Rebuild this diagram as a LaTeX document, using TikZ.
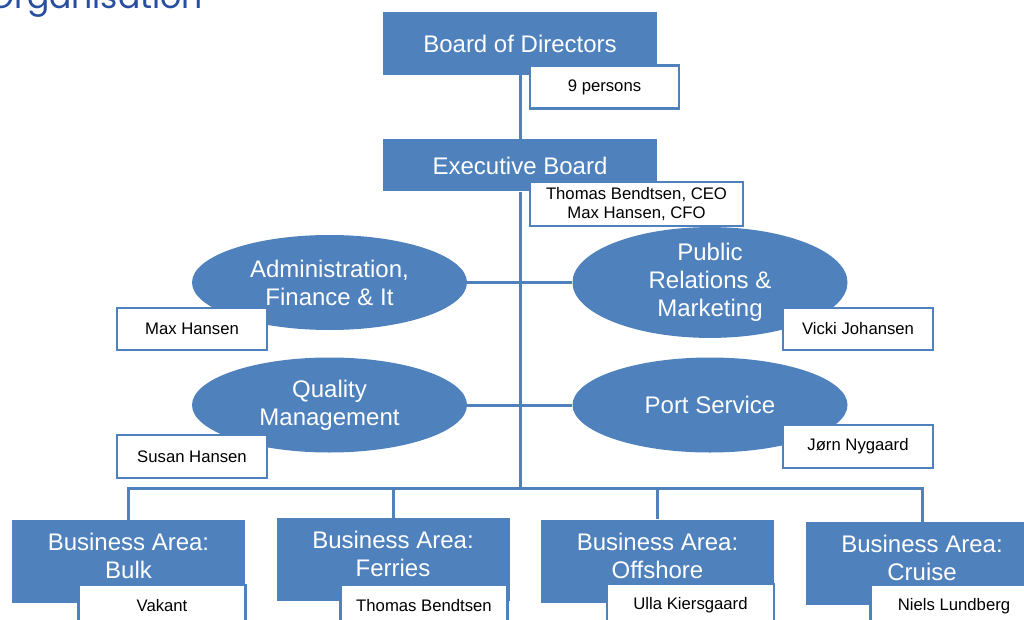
\documentclass[tikz,border=0pt]{standalone}
\usepackage{fontspec}
\setmainfont{Liberation Sans}
\newfontfamily\titlefont{Poppins}
\usetikzlibrary{shapes.geometric}

\definecolor{orgblue}{RGB}{79,129,189}
\definecolor{titleblue}{RGB}{41,78,160}

\tikzset{
    unit/.style={fill=orgblue, text=white, inner sep=0pt, align=center, font=\fontsize{24}{28}\selectfont},
    unitbox/.style={unit, rectangle},
    areabox/.style={unitbox, minimum width=233pt, minimum height=83pt, text depth=11pt},
    unitoval/.style={unit, ellipse, minimum width=275pt, minimum height=95pt},
    namebox/.style={draw=orgblue, line width=2.5pt, fill=white, inner sep=0pt, align=center, font=\fontsize{16.7}{19}\selectfont},
    areaname/.style={namebox, minimum width=167pt, minimum height=42pt},
    orgline/.style={draw=orgblue, line width=3pt},
}

\begin{document}
\begin{tikzpicture}[x=1pt,y=-1pt]
                \clip (0,0) rectangle (1024,620);
                \node[anchor=base east, inner sep=0pt, text=titleblue, font=\titlefont\fontsize{33}{33}\selectfont] (title) at (203,9) {Organisation};

                \node[unitbox, minimum width=274pt, minimum height=63pt] (board) at (520,43.5) {Board of Directors};
                \node[namebox, minimum width=149pt, minimum height=43pt] (boardname) at (604.5,87) {9 persons};
                \node[unitbox, minimum width=274pt, minimum height=52pt] (exec) at (520,165.5) {Executive Board};
                \node[namebox, minimum width=213pt, minimum height=44pt] (execname) at (636.5,204) {Thomas Bendtsen, CEO\\Max Hansen, CFO};

                \node[unitoval] (admin) at (329.5,282.5) {Administration,\\Finance \& It};
                \node[unitoval] (pubrel) at (710,282.5) {Public\\Relations \&\\Marketing};
                \node[unitoval] (quality) at (329.5,405) {Quality\\Management};
                \node[unitoval] (port) at (710,405) {Port Service};
                \node[namebox, minimum width=150pt, minimum height=42pt] (adminname) at (192,329) {Max Hansen};
                \node[namebox, minimum width=150pt, minimum height=42pt] (pubrelname) at (858,329) {Vicki Johansen};
                \node[namebox, minimum width=150pt, minimum height=43pt] (qualityname) at (192,456.5) {Susan Hansen};
                \node[namebox, minimum width=150pt, minimum height=43pt] (portname) at (858,446.5) {Jørn Nygaard};

                \node[areabox] (bulk) at (128.5,561.5) {Business Area:\\Bulk};
                \node[areabox] (ferries) at (393,559.5) {Business Area:\\Ferries};
                \node[areabox] (offshore) at (657.5,561) {Business Area:\\Offshore};
                \node[areabox] (cruise) at (922,563.5) {Business Area:\\Cruise};
                \node[areaname] (bulkname) at (162,606) {Vakant};
                \node[areaname] (ferriesname) at (424,606) {Thomas Bendtsen};
                \node[areaname] (offshorename) at (690.5,605) {Ulla Kiersgaard};
                \node[areaname] (cruisename) at (954,606) {Niels Lundberg};

                \coordinate (bus) at (520,488);

                \draw[orgline] (board) -- (exec);
                \draw[orgline] (exec) -- (bus);
                \draw[orgline] (admin) -- (pubrel);
                \draw[orgline] (quality) -- (port);
                \draw[orgline] (bulk.north) |- (bus) -| (cruise.north);
                \draw[orgline] (ferries.north) -- (ferries.north |- bus);
                \draw[orgline] (offshore.north) -- (offshore.north |- bus);
\end{tikzpicture}
\end{document}
